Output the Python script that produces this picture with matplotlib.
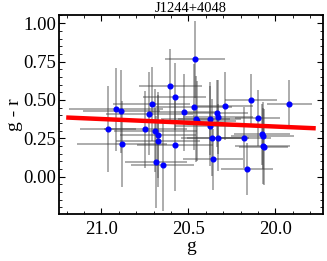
import numpy as np
import matplotlib
matplotlib.use('Agg')
import matplotlib.pyplot as plt
from matplotlib.ticker import MultipleLocator, FormatStrFormatter

plt.rcParams['font.family'] = ['Liberation Serif', 'DejaVu Serif']

# g magnitude, g - r colour and their errors
g = [20.962, 20.916, 20.885, 20.881, 20.747, 20.724, 20.711, 20.690, 20.686,
     20.675, 20.675, 20.648, 20.604, 20.579, 20.577, 20.527, 20.468, 20.462,
     20.458, 20.448, 20.378, 20.378, 20.362, 20.358, 20.337, 20.330, 20.330,
     20.291, 20.182, 20.163, 20.138, 20.102, 20.077, 20.073, 20.073, 20.067,
     19.920]
gr = [0.309, 0.439, 0.426, 0.211, 0.309, 0.409, 0.472, 0.298, 0.096,
      0.272, 0.235, 0.078, 0.594, 0.522, 0.205, 0.420, 0.452, 0.765,
      0.376, 0.365, 0.379, 0.333, 0.255, 0.113, 0.413, 0.387, 0.255,
      0.459, 0.255, 0.050, 0.500, 0.383, 0.276, 0.268, 0.200, 0.194,
      0.472]
g_err = [0.16, 0.27, 0.22, 0.26, 0.24, 0.25, 0.22, 0.24, 0.18,
         0.22, 0.24, 0.18, 0.18, 0.18, 0.22, 0.20, 0.22, 0.17,
         0.20, 0.22, 0.18, 0.20, 0.18, 0.17, 0.18, 0.20, 0.18,
         0.16, 0.16, 0.15, 0.15, 0.13, 0.16, 0.18, 0.16, 0.14,
         0.13]
gr_err = [0.28, 0.27, 0.27, 0.28, 0.25, 0.27, 0.24, 0.27, 0.30,
          0.28, 0.30, 0.30, 0.24, 0.22, 0.30, 0.25, 0.28, 0.25,
          0.28, 0.26, 0.24, 0.26, 0.25, 0.20, 0.22, 0.24, 0.22,
          0.22, 0.20, 0.17, 0.17, 0.18, 0.20, 0.22, 0.25, 0.25,
          0.16]

# fitted relation (end points of the red line)
fit_g = [21.19, 19.78]
fit_gr = [0.385, 0.316]

fig = plt.figure(figsize=(3.27, 2.61), dpi=100)
ax = fig.add_axes([0.180, 0.180, 0.808, 0.763])

ax.errorbar(g, gr, xerr=g_err, yerr=gr_err, fmt='o', ms=3.4, mfc='#0000ff',
            mec='#0000ff', ecolor=(0.25, 0.25, 0.25, 0.5), elinewidth=1.2,
            capsize=0, zorder=3)
ax.plot(fit_g, fit_gr, color='#ff0000', lw=3.2, zorder=4)

ax.set_xlim(21.245, 19.725)
ax.set_ylim(-0.243, 1.054)

ax.xaxis.set_major_locator(MultipleLocator(0.5))
ax.xaxis.set_minor_locator(MultipleLocator(0.1))
ax.yaxis.set_major_locator(MultipleLocator(0.25))
ax.yaxis.set_minor_locator(MultipleLocator(0.05))
ax.xaxis.set_major_formatter(FormatStrFormatter('%.1f'))
ax.yaxis.set_major_formatter(FormatStrFormatter('%.2f'))

ax.tick_params(which='both', direction='in', top=True, right=True,
               labeltop=False, labelright=False, labelsize=13.5)
ax.tick_params(axis='x', pad=5)
ax.tick_params(axis='y', pad=2)
ax.tick_params(which='major', length=4, width=0.8)
ax.tick_params(which='minor', length=2, width=0.6)
for s in ax.spines.values():
    s.set_linewidth(1.3)

ax.set_title('J1244+4048', fontsize=10.5, pad=1)
ax.set_xlabel('g', fontsize=14, labelpad=0)
ax.set_ylabel('g - r', fontsize=14, labelpad=0)

fig.savefig('out.png', dpi=100)
